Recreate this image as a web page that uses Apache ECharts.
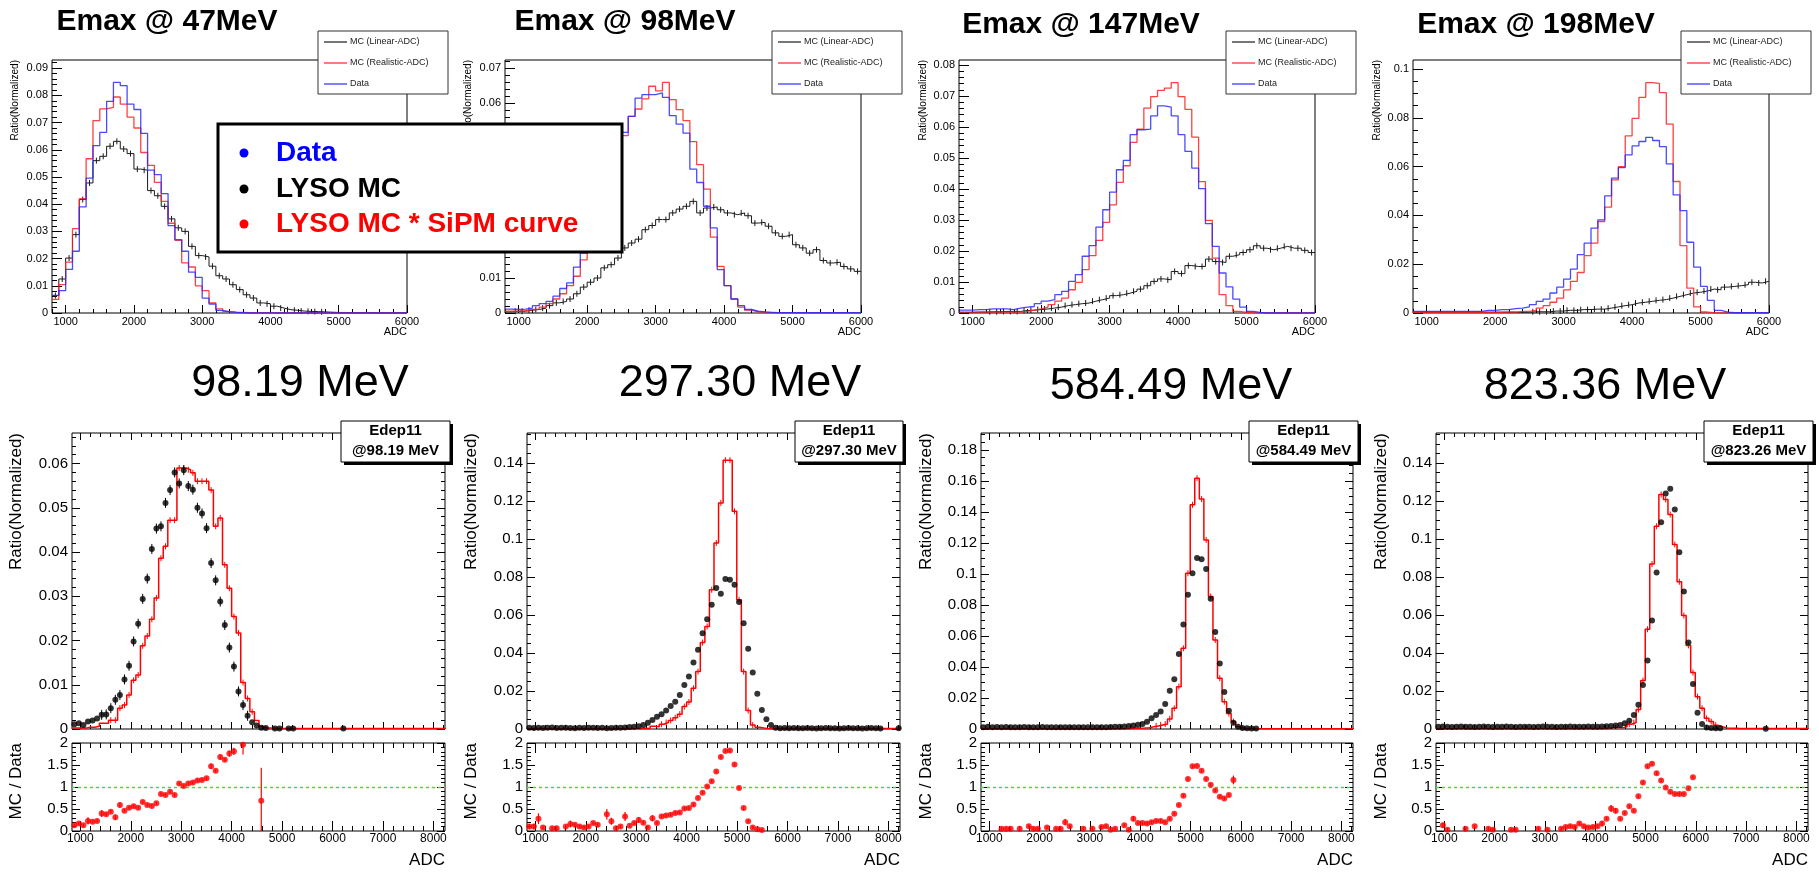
<!DOCTYPE html>
<html><head><meta charset="utf-8">
<script src="https://cdn.jsdelivr.net/npm/echarts@6/dist/echarts.min.js"></script>
<style>html,body{margin:0;padding:0;background:#fff}#c{width:1819px;height:874px}</style>
</head><body><div id="c"></div>
<script>
const FONT = '"Liberation Sans", Arial, Helvetica, sans-serif';

// ================= DATA =================
// ---- top row: histograms, bins of 100 ADC starting at 800 (800..5900)
const topBinStart = 800, topBinWidth = 100;
const topTitles = ['Emax @ 47MeV', 'Emax @ 98MeV', 'Emax @ 147MeV', 'Emax @ 198MeV'];
const topLegendLabels = ['MC (Linear-ADC)', 'MC (Realistic-ADC)', 'Data'];
const topXTicks = [1000, 2000, 3000, 4000, 5000, 6000];
const topYTicks47 = [0, 0.01, 0.02, 0.03, 0.04, 0.05, 0.06, 0.07, 0.08, 0.09];
const topYTicks98 = [0, 0.01, 0.02, 0.03, 0.04, 0.05, 0.06, 0.07];
const topYTicks147 = [0, 0.01, 0.02, 0.03, 0.04, 0.05, 0.06, 0.07, 0.08];
const topYTicks198 = [0, 0.02, 0.04, 0.06, 0.08, 0.1];

const e47Linear = [0.0064,0.0125,0.0202,0.0288,0.0417,0.0478,0.056,0.0576,0.0613,0.0631,0.0603,0.0586,0.0529,0.0525,0.045,0.0431,0.0392,0.0346,0.0313,0.03,0.0245,0.0211,0.0206,0.0172,0.0137,0.0125,0.0104,0.0086,0.0067,0.0055,0.0037,0.0034,0.0025,0.0018,0.0012,0.001,0.0007,0.0006,0.0005,0.0004,0.0003,0.0002,0.0002,0.0001,0.0001,0.0001,0.0001,0,0,0,0,0];
const e47Realistic = [0.005,0.0104,0.0187,0.031,0.042,0.0567,0.0707,0.075,0.0756,0.0794,0.0768,0.072,0.068,0.059,0.0543,0.048,0.041,0.033,0.0267,0.0184,0.0169,0.01,0.0082,0.0037,0.0015,0.0006,0.0003,0.0002,0.0001,0.0001,0.0001,0.0001,0,0,0,0,0,0,0,0,0,0,0,0,0,0,0,0,0,0,0,0];
const e47Data = [0.0065,0.0082,0.016,0.0227,0.039,0.0496,0.0615,0.0664,0.0778,0.0848,0.0836,0.0768,0.0748,0.066,0.0525,0.0509,0.0439,0.0321,0.027,0.0227,0.015,0.0131,0.0055,0.0033,0.001,0.0004,0.0002,0.0001,0,0,0,0,0,0,0,0,0,0,0,0,0,0,0,0,0,0,0,0,0,0,0,0];

const e98Linear = [0.0003,0.0005,0.0005,0.0008,0.001,0.0014,0.0021,0.0029,0.0033,0.004,0.0055,0.0074,0.0088,0.01,0.0129,0.0138,0.0157,0.0186,0.02,0.0211,0.0238,0.025,0.0267,0.0267,0.0286,0.0297,0.0305,0.0319,0.0286,0.03,0.0303,0.0295,0.0286,0.0281,0.0286,0.0278,0.0257,0.0259,0.0248,0.0229,0.0219,0.0224,0.0195,0.0186,0.0171,0.0181,0.015,0.0143,0.0145,0.0133,0.0126,0.0119];
const e98Realistic = [0.0005,0.0005,0.0007,0.001,0.0011,0.0017,0.0027,0.004,0.0055,0.0078,0.0105,0.0152,0.02,0.026,0.032,0.039,0.046,0.0507,0.0562,0.0583,0.0612,0.0648,0.0635,0.0659,0.061,0.0581,0.055,0.049,0.0424,0.0354,0.0217,0.0133,0.0078,0.004,0.0017,0.0008,0.0003,0.0002,0.0001,0.0001,0,0,0,0,0,0,0,0,0,0,0,0];
const e98Data = [0.0011,0.001,0.0011,0.0014,0.0021,0.0027,0.0033,0.0048,0.007,0.0086,0.0131,0.0171,0.022,0.027,0.033,0.04,0.047,0.0516,0.0562,0.0614,0.0624,0.0624,0.0629,0.0616,0.0564,0.054,0.0514,0.0411,0.0373,0.0305,0.0243,0.0124,0.0078,0.004,0.0021,0.001,0.0005,0.0003,0.0002,0.0001,0.0001,0.0001,0.0001,0.0001,0.0001,0.0001,0.0001,0.0001,0.0001,0.0001,0.0001,0.0001];

const e147Linear = [0.0002,0.0002,0.0003,0.0003,0.0004,0.0004,0.0005,0.0005,0.0005,0.0008,0.0009,0.0011,0.0013,0.0016,0.0019,0.0024,0.0027,0.003,0.0032,0.0038,0.0043,0.0048,0.0056,0.0059,0.0064,0.007,0.0077,0.0088,0.0102,0.011,0.0107,0.0134,0.0127,0.0153,0.015,0.015,0.0174,0.0166,0.0163,0.0183,0.0188,0.0195,0.0204,0.0217,0.0209,0.0204,0.0209,0.0215,0.0209,0.0209,0.0202,0.0195];
const e147Realistic = [0.0003,0.0003,0.0003,0.0003,0.0003,0.0003,0.0003,0.0003,0.0003,0.0005,0.0009,0.0013,0.0019,0.0027,0.0038,0.0048,0.0075,0.0099,0.014,0.0185,0.0234,0.0292,0.0349,0.0421,0.0475,0.055,0.0593,0.0661,0.0698,0.0718,0.0725,0.0743,0.0698,0.0657,0.0567,0.0424,0.0299,0.0177,0.0059,0.0024,0.0005,0.0002,0.0001,0,0,0,0,0,0,0,0,0];
const e147Data = [0.0009,0.0009,0.0011,0.0011,0.0013,0.0013,0.0013,0.0011,0.0016,0.0019,0.0021,0.003,0.0038,0.0043,0.0059,0.007,0.0102,0.0124,0.0183,0.0217,0.0277,0.0333,0.039,0.0462,0.0492,0.0575,0.0591,0.0593,0.0636,0.0668,0.0664,0.0636,0.0575,0.0521,0.0467,0.0401,0.0288,0.0215,0.0129,0.0084,0.0045,0.0019,0.0005,0.0002,0,0,0,0,0,0,0,0];

const e198Linear = [0.0003,0.0003,0.0003,0.0003,0.0003,0.0003,0.0003,0.0003,0.0003,0.0003,0.0003,0.0003,0.0003,0.0003,0.0003,0.0003,0.0003,0.0005,0.0005,0.0005,0.0008,0.0008,0.0011,0.0011,0.0014,0.0014,0.0016,0.0016,0.002,0.0025,0.003,0.0034,0.0041,0.0044,0.0048,0.0052,0.0055,0.0061,0.0068,0.0075,0.0082,0.0085,0.009,0.0098,0.0095,0.0106,0.0109,0.0112,0.0116,0.0126,0.0123,0.013];
const e198Realistic = [0.0003,0.0003,0.0003,0.0003,0.0003,0.0003,0.0003,0.0003,0.0003,0.0003,0.0003,0.0003,0.0003,0.0004,0.0004,0.0007,0.0007,0.0011,0.002,0.003,0.0044,0.0061,0.0095,0.013,0.0166,0.0235,0.0286,0.0375,0.0434,0.0546,0.06,0.0726,0.0798,0.0884,0.0944,0.0941,0.0903,0.0774,0.0539,0.0276,0.0102,0.0025,0.0004,0.0001,0,0,0,0,0,0,0,0];
const e198Data = [0.0007,0.0007,0.0007,0.0007,0.0007,0.0007,0.0007,0.0007,0.0007,0.0007,0.0011,0.0011,0.0014,0.0014,0.0018,0.002,0.0025,0.0034,0.0048,0.0057,0.0082,0.0106,0.0139,0.018,0.0239,0.0286,0.0348,0.0382,0.048,0.0553,0.0596,0.0648,0.0685,0.0703,0.072,0.0707,0.0682,0.0611,0.0484,0.042,0.029,0.0188,0.0109,0.0052,0.0011,0.0004,0.0001,0.0001,0.0001,0.0001,0.0001,0.0001];

// ---- bottom row: bins of ~90.4 ADC starting at 835.8 (index 0..81)
const botBinStart = 835.8, botBinWidth = 90.4;
const botTitles = ['98.19 MeV', '297.30 MeV', '584.49 MeV', '823.36 MeV'];
const botBoxLabels = ['@98.19 MeV', '@297.30 MeV', '@584.49 MeV', '@823.26 MeV'];
const botXTicks = [1000, 2000, 3000, 4000, 5000, 6000, 7000, 8000];
const botYTicks98 = [0, 0.01, 0.02, 0.03, 0.04, 0.05, 0.06];
const botYTicks297 = [0, 0.02, 0.04, 0.06, 0.08, 0.1, 0.12, 0.14];
const botYTicks584 = [0, 0.02, 0.04, 0.06, 0.08, 0.1, 0.12, 0.14, 0.16, 0.18];
const botYTicks823 = [0, 0.02, 0.04, 0.06, 0.08, 0.1, 0.12, 0.14];
const ratioYTicks = [0, 0.5, 1, 1.5, 2];

const b98Data = [0.0011,0.0013,0.0009,0.0017,0.0019,0.0024,0.0032,0.0033,0.0047,0.0066,0.0077,0.0112,0.0143,0.0198,0.0238,0.0294,0.034,0.0407,0.0453,0.0458,0.0511,0.054,0.058,0.0555,0.0585,0.0549,0.0541,0.05,0.0487,0.0454,0.0375,0.0336,0.0288,0.0235,0.0184,0.0141,0.0085,0.0054,0.003,0.0015,0.0008,0.0003,0.0002,null,0.0001,0.0001,null,0.0001,0.0001,null,null,null,null,null,null,null,null,null,null,0.0001,null,null,null,null,null,null,null,null,null,null,null,null,null,null,null,null,null,null,null,null,null,null];
const b98MC = [0.0002,0.0002,0.0002,0.0004,0.0004,0.0006,0.0013,0.0013,0.002,0.002,0.0047,0.0054,0.0077,0.011,0.0122,0.0188,0.021,0.0248,0.0296,0.0386,0.0413,0.0472,0.0472,0.059,0.059,0.0586,0.0579,0.056,0.056,0.056,0.054,0.0458,0.0477,0.0371,0.0318,0.0254,0.0217,0.0105,0.0069,0.0039,0.0019,0.0005,0.0002,0.0002,0.0001,0.0001,0.0001,0.0001,0.0001,0.0001,0.0001,0.0001,0.0001,0.0001,0.0001,0.0001,0.0001,0.0001,0.0001,0.0001,0.0001,0.0001,0.0001,0.0001,0.0001,0.0001,0.0001,0.0001,0.0001,0.0001,0.0001,0.0001,0.0001,0.0001,0.0001,0.0001,0.0001,0.0001,0.0001,0.0001,0.0001,0.0001];
const b98Ratio = [[0,0.13],[1,0.17],[2,0.13],[3,0.23],[4,0.21],[5,0.23],[6,0.4],[7,0.38],[8,0.44],[9,0.31],[10,0.59],[11,0.46],[12,0.53],[13,0.56],[14,0.53],[15,0.66],[16,0.59],[17,0.57],[18,0.63],[19,0.84],[20,0.82],[21,0.89],[22,0.82],[23,1.08],[24,1.02],[25,1.08],[26,1.1],[27,1.15],[28,1.16],[29,1.2],[30,1.47],[31,1.37],[32,1.68],[33,1.62],[34,1.76],[35,1.81],[37,1.96],[41,0.69]];
const b98RatioErr = [[3,0.08],[6,0.08],[9,0.06],[10,0.06],[30,0.06],[32,0.06],[34,0.07],[35,0.08],[37,0.22],[41,0.75]];

const b297Data = [0.0006,0.0005,0.0007,0.0005,0.0006,0.0008,0.0005,0.0006,0.0007,0.0005,0.0004,0.0006,0.0005,0.0007,0.0006,0.0005,0.0006,0.0004,0.0005,0.0006,0.0007,0.0008,0.001,0.0012,0.0015,0.0021,0.0033,0.0047,0.0065,0.0077,0.0097,0.0121,0.0144,0.0179,0.0232,0.0276,0.035,0.0417,0.0504,0.0578,0.0654,0.0742,0.0712,0.0789,0.0786,0.0759,0.0668,0.0557,0.0422,0.0297,0.0185,0.01,0.0051,0.0021,0.0007,0.0004,0.0005,0.0004,0.0005,0.0004,0.0004,0.0005,0.0004,0.0003,0.0004,0.0005,0.0004,0.0004,0.0003,0.0004,0.0005,0.0004,0.0004,0.0003,0.0004,0.0005,0.0004,0.0003,null,null,null,0.0004];
const b297MC = [0.0001,0.0001,0.0002,0.0001,0.0001,0.0001,0.0001,0.0001,0.0001,0.0001,0.0001,0.0001,0.0001,0.0001,0.0001,0.0001,0.0001,0.0002,0.0001,0.0001,0.0001,0.0003,0.0001,0.0002,0.0003,0.0004,0.0003,0.0014,0.0012,0.0025,0.0034,0.0045,0.0059,0.0078,0.0118,0.0142,0.0214,0.0302,0.0455,0.054,0.0733,0.0979,0.119,0.1415,0.1415,0.1146,0.068,0.0302,0.0097,0.0021,0.0009,0.0005,0.0002,0.0002,0.0002,0.0002,0.0002,0.0002,0.0002,0.0002,0.0002,0.0002,0.0002,0.0002,0.0002,0.0002,0.0002,0.0002,0.0002,0.0002,0.0002,0.0002,0.0002,0.0002,0.0002,0.0002,0.0002,0.0002,0.0002,0.0002,0.0002,0.0002];
const b297Ratio = [[0,0.1],[1,0.1],[2,0.28],[3,0.08],[5,0.06],[6,0.06],[8,0.1],[9,0.16],[10,0.14],[11,0.1],[12,0.08],[13,0.1],[14,0.18],[15,0.14],[17,0.38],[18,0.22],[19,0.06],[20,0.1],[21,0.33],[22,0.12],[23,0.18],[24,0.25],[25,0.19],[26,0.08],[27,0.29],[28,0.18],[29,0.33],[30,0.35],[31,0.37],[32,0.41],[33,0.42],[34,0.51],[35,0.52],[36,0.6],[37,0.75],[38,0.87],[39,1.01],[40,1.13],[41,1.35],[42,1.68],[43,1.82],[44,1.83],[45,1.51],[46,0.98],[47,0.52],[48,0.22],[49,0.08],[50,0.04],[51,0.02]];
const b297RatioErr = [[0,0.06],[1,0.06],[2,0.12],[9,0.08],[17,0.12],[18,0.08],[21,0.1],[24,0.07],[27,0.07]];

const b584Data = [0.0012,0.0014,0.0012,0.0013,0.0012,0.0013,0.0012,0.0011,0.0012,0.0013,0.0012,0.0012,0.0011,0.0013,0.0012,0.0012,0.0011,0.0012,0.0012,0.0011,0.0012,0.0012,0.0011,0.0012,0.0012,0.0011,0.0012,0.0012,0.0013,0.0014,0.0015,0.0016,0.0019,0.0022,0.0027,0.0033,0.0047,0.0069,0.009,0.0112,0.0161,0.0247,0.032,0.0484,0.0673,0.0865,0.1004,0.1103,0.1095,0.1032,0.0839,0.0626,0.0422,0.0239,0.0118,0.0041,0.0015,0.0006,0.0005,0.0004,0.0004,null,null,null,null,null,null,null,null,null,null,null,null,null,null,null,null,null,null,null,null,null];
const b584MC = [0.0001,0.0001,0.0001,0.0001,0.0001,0.0001,0.0001,0.0001,0.0001,0.0001,0.0001,0.0001,0.0001,0.0001,0.0001,0.0001,0.0001,0.0001,0.0001,0.0001,0.0001,0.0001,0.0001,0.0001,0.0001,0.0001,0.0001,0.0001,0.0001,0.0001,0.0002,0.0002,0.0002,0.0006,0.0005,0.0006,0.0008,0.0014,0.002,0.0026,0.0032,0.0065,0.0133,0.0273,0.052,0.1004,0.1445,0.1617,0.1482,0.1219,0.0854,0.0574,0.0327,0.0176,0.01,0.0047,0.0015,0.0005,0.0002,0.0002,0.0002,0.0002,0.0002,0.0002,0.0002,0.0002,0.0002,0.0002,0.0002,0.0002,0.0002,0.0002,0.0002,0.0002,0.0002,0.0002,0.0002,0.0002,0.0002,0.0002,0.0002,0.0002];
const b584Ratio = [[4,0.05],[5,0.05],[6,0.05],[8,0.05],[10,0.11],[11,0.05],[12,0.05],[14,0.08],[16,0.05],[17,0.05],[18,0.2],[19,0.11],[22,0.05],[24,0.05],[26,0.09],[27,0.11],[28,0.03],[29,0.05],[31,0.13],[32,0.03],[33,0.28],[34,0.18],[35,0.18],[36,0.17],[37,0.2],[38,0.23],[39,0.23],[40,0.2],[41,0.28],[42,0.39],[43,0.59],[44,0.8],[45,1.18],[46,1.47],[47,1.48],[48,1.37],[49,1.18],[50,1.05],[51,0.92],[52,0.78],[53,0.74],[54,0.82],[55,1.16]];
const b584RatioErr = [[18,0.07],[33,0.06],[55,0.1]];

const b823Data = [0.0012,0.0013,0.0012,0.0011,0.0012,0.0013,0.0012,0.0012,0.0011,0.0012,0.0013,0.0012,0.0011,0.0012,0.0012,0.0013,0.0012,0.0011,0.0012,0.0012,0.0012,0.0011,0.0012,0.0013,0.0012,0.0012,0.0011,0.0012,0.0012,0.0013,0.0012,0.0012,0.0012,0.0013,0.0012,0.0012,0.0013,0.0015,0.0016,0.0018,0.0021,0.003,0.0044,0.0074,0.0127,0.0232,0.036,0.0571,0.0824,0.1088,0.1239,0.1265,0.1155,0.093,0.0724,0.0455,0.0237,0.0086,0.0026,0.0008,0.0005,0.0004,0.0004,null,null,null,null,null,null,null,null,null,0.0001,null,null,null,null,null,null,null,null,null];
const b823MC = [0.0001,0.0001,0.0001,0.0001,0.0001,0.0001,0.0001,0.0001,0.0001,0.0001,0.0001,0.0001,0.0001,0.0001,0.0001,0.0001,0.0001,0.0001,0.0001,0.0001,0.0001,0.0001,0.0001,0.0001,0.0001,0.0001,0.0001,0.0001,0.0001,0.0001,0.0002,0.0002,0.0002,0.0002,0.0002,0.0002,0.0002,0.0002,0.0008,0.0008,0.0006,0.0012,0.0025,0.0034,0.0102,0.0255,0.0525,0.0868,0.1067,0.1234,0.1208,0.1129,0.0971,0.0775,0.0597,0.044,0.0297,0.017,0.0109,0.0056,0.0039,0.002,0.0012,0.0005,0.0004,0.0004,0.0003,0.0003,0.0003,0.0003,0.0003,0.0002,0.0002,0.0002,0.0002,0.0002,0.0002,0.0002,0.0002,0.0002,0.0002,0.0002];
const b823Ratio = [[1,0.13],[2,0.03],[6,0.05],[8,0.11],[11,0.05],[12,0.03],[16,0.03],[17,0.03],[22,0.05],[24,0.03],[27,0.05],[28,0.09],[29,0.11],[30,0.09],[31,0.17],[32,0.11],[33,0.08],[34,0.09],[35,0.11],[36,0.17],[37,0.28],[38,0.51],[39,0.46],[40,0.28],[41,0.41],[42,0.56],[43,0.46],[44,0.79],[45,1.1],[46,1.47],[47,1.53],[48,1.31],[49,1.15],[50,0.99],[51,0.89],[52,0.84],[53,0.84],[54,0.84],[55,0.97],[56,1.22]];
const b823RatioErr = [[1,0.06],[36,0.06],[38,0.08],[39,0.06]];

// ================= LAYOUT / BUILD =================
const grids = [], xAxes = [], yAxes = [], series = [], graphics = [];
const fmt = v => String(parseFloat((+v).toFixed(4)));
function steps(min, max, step) {
  const out = [];
  for (let k = Math.ceil(min / step - 1e-9); k * step <= max + 1e-9; k++) out.push(+(k * step).toFixed(6));
  return out;
}
function addGrid(b) {
  grids.push({left: b.l, top: b.t, width: b.w, height: b.h, show: true, borderColor: '#000', borderWidth: 1, backgroundColor: 'transparent', containLabel: false});
  return grids.length - 1;
}
function addAxis(dim, g, min, max, pos, ticks, len, labels, fs, margin) {
  const a = {
    type: 'value', gridIndex: g, min, max, position: pos,
    axisLine: {show: false, onZero: false}, splitLine: {show: false}, minorTick: {show: false},
    axisTick: {show: true, inside: true, length: len, customValues: ticks, lineStyle: {color: '#000', width: 1}},
    axisLabel: labels ? {show: true, customValues: labels, formatter: fmt, fontFamily: FONT, fontSize: fs, color: '#000', margin: margin, showMinLabel: true, showMaxLabel: true}
                      : {show: false},
    axisPointer: {show: false}
  };
  const arr = dim === 'x' ? xAxes : yAxes;
  arr.push(a);
  return arr.length - 1;
}
function stepPts(vals, start, width) {
  const pts = [];
  vals.forEach((v, i) => { if (v == null) return; pts.push([start + width * i, v], [start + width * (i + 1), v]); });
  return pts;
}
function centers(vals, start, width, minV) {
  const pts = [];
  vals.forEach((v, i) => { if (v == null || v < minV) return; pts.push([start + width * (i + 0.5), v]); });
  return pts;
}
function pxErr(xi, yi, pts, color, half) {
  return {type: 'custom', xAxisIndex: xi, yAxisIndex: yi, data: pts, silent: true, animation: false, z: 3,
    renderItem: (p, api) => {
      const c = api.coord([api.value(0), api.value(1)]);
      return {type: 'line', shape: {x1: c[0], y1: c[1] - half, x2: c[0], y2: c[1] + half}, style: {stroke: color, lineWidth: 1}};
    }};
}
function text(x, y, str, o) {
  graphics.push(Object.assign({type: 'text', x, y, z: 100, silent: true,
    style: Object.assign({text: str, fill: '#000', fontFamily: FONT, fontSize: 12, align: 'center', verticalAlign: 'middle'}, o.style || {})},
    o.rotation ? {rotation: o.rotation} : {}));
}
function rect(x, y, w, h, o) {
  graphics.push({type: 'rect', z: o.z || 100, silent: true, shape: {x, y, width: w, height: h},
    style: {fill: o.fill || '#fff', stroke: o.stroke || null, lineWidth: o.lw || 0}});
}
function line(x1, y1, x2, y2, color, w) {
  graphics.push({type: 'line', z: 101, silent: true, shape: {x1, y1, x2, y2}, style: {stroke: color, lineWidth: w}});
}

const RED = '#ff2020', BLUE = '#2a2aff', BLK = '#1a1a1a';

// ---------- top row ----------
const topPanels = [
  {b: {l: 52, t: 60, w: 355, h: 253}, ymax: 0.093, yt: topYTicks47, ym: 0.002, lin: e47Linear, real: e47Realistic, data: e47Data, tp: [167, 22], leg: 318, ytx: 15},
  {b: {l: 505, t: 60, w: 356, h: 253}, ymax: 0.0723, yt: topYTicks98, ym: 0.002, lin: e98Linear, real: e98Realistic, data: e98Data, tp: [625, 22], leg: 772, ytx: 468},
  {b: {l: 959, t: 60, w: 356, h: 253}, ymax: 0.0816, yt: topYTicks147, ym: 0.002, lin: e147Linear, real: e147Realistic, data: e147Data, tp: [1081, 25], leg: 1226, ytx: 923},
  {b: {l: 1413, t: 60, w: 356, h: 253}, ymax: 0.1037, yt: topYTicks198, ym: 0.005, lin: e198Linear, real: e198Realistic, data: e198Data, tp: [1536, 25], leg: 1681, ytx: 1377}
];
const TX0 = 800, TX1 = 6000;
topPanels.forEach((P, k) => {
  const g = addGrid(P.b);
  const xi = addAxis('x', g, TX0, TX1, 'bottom', topXTicks, 8, topXTicks, 11, 3);
  addAxis('x', g, TX0, TX1, 'bottom', steps(TX0, TX1, 200), 4, null);
  const yi = addAxis('y', g, 0, P.ymax, 'left', P.yt, 10, P.yt, 11, 4);
  addAxis('y', g, 0, P.ymax, 'left', steps(0, P.ymax, P.ym), 5, null);
  series.push({type: 'line', xAxisIndex: xi, yAxisIndex: yi, data: stepPts(P.lin, topBinStart, topBinWidth), symbol: 'none', lineStyle: {color: BLK, width: 1}, animation: false, z: 2});
  series.push(pxErr(xi, yi, centers(P.lin, topBinStart, topBinWidth, 0.0004), BLK, 3));
  series.push({type: 'line', xAxisIndex: xi, yAxisIndex: yi, data: stepPts(P.real, topBinStart, topBinWidth), symbol: 'none', lineStyle: {color: RED, width: 1.3, opacity: 0.85}, animation: false, z: 3});
  series.push({type: 'line', xAxisIndex: xi, yAxisIndex: yi, data: stepPts(P.data, topBinStart, topBinWidth), symbol: 'none', lineStyle: {color: BLUE, width: 1.3, opacity: 0.85}, animation: false, z: 4});
  text(P.tp[0], P.tp[1], topTitles[k], {style: {fontSize: 30, fontWeight: 'bold'}});
  text(P.b.l + P.b.w, 332, 'ADC', {style: {fontSize: 11, align: 'right'}});
  text(P.ytx, P.b.t, 'Ratio(Normalized)', {rotation: Math.PI / 2, style: {fontSize: 10, align: 'right'}});
  const L = P.leg;
  rect(L, 31, 130, 63, {fill: '#fff', stroke: '#333', lw: 1});
  const cols = [BLK, RED, BLUE], ys = [42, 63, 84];
  topLegendLabels.forEach((s, j) => {
    line(L + 6, ys[j], L + 29, ys[j], cols[j], 1.2);
    text(L + 32, ys[j], s, {style: {fontSize: 9, align: 'left', fill: '#222'}});
  });
});
// big overlay legend
rect(218, 124, 404, 128, {fill: '#fff', stroke: '#000', lw: 3});
[['Data', '#0000ff', 153], ['LYSO MC', '#000', 189], ['LYSO MC * SiPM curve', '#ff0000', 224]].forEach(r => {
  graphics.push({type: 'circle', z: 101, silent: true, shape: {cx: 244, cy: r[2], r: 4.5}, style: {fill: r[1]}});
  text(276, r[2], r[0], {style: {fontSize: 28, fontWeight: 'bold', align: 'left', fill: r[1]}});
});

// ---------- bottom row ----------
const botPanels = [
  {l: 72, w: 373, ymax: 0.0669, yt: botYTicks98, ym: 0.002, data: b98Data, mc: b98MC, ratio: b98Ratio, rerr: b98RatioErr, tp: [300, 384], box: [341, 109], ytx: 16, dataErr: true},
  {l: 527, w: 373, ymax: 0.1558, yt: botYTicks297, ym: 0.005, data: b297Data, mc: b297MC, ratio: b297Ratio, rerr: b297RatioErr, tp: [740, 384], box: [795, 108], ytx: 471},
  {l: 981, w: 372, ymax: 0.1908, yt: botYTicks584, ym: 0.005, data: b584Data, mc: b584MC, ratio: b584Ratio, rerr: b584RatioErr, tp: [1171, 387], box: [1249, 109], ytx: 926},
  {l: 1436, w: 372, ymax: 0.1558, yt: botYTicks823, ym: 0.005, data: b823Data, mc: b823MC, ratio: b823Ratio, rerr: b823RatioErr, tp: [1605, 387], box: [1704, 109], ytx: 1381}
];
const BX0 = 835, BX1 = 8230;
const bxMinor = steps(BX0, BX1, 200);
botPanels.forEach((P, k) => {
  const g = addGrid({l: P.l, t: 433, w: P.w, h: 296});
  const xi = addAxis('x', g, BX0, BX1, 'bottom', botXTicks, 7, null);
  addAxis('x', g, BX0, BX1, 'bottom', bxMinor, 4, null);
  addAxis('x', g, BX0, BX1, 'top', botXTicks, 7, null);
  addAxis('x', g, BX0, BX1, 'top', bxMinor, 4, null);
  const yi = addAxis('y', g, 0, P.ymax, 'left', P.yt, 8, P.yt, 15, 4);
  addAxis('y', g, 0, P.ymax, 'left', steps(0, P.ymax, P.ym), 4, null);
  addAxis('y', g, 0, P.ymax, 'right', P.yt, 8, null);
  addAxis('y', g, 0, P.ymax, 'right', steps(0, P.ymax, P.ym), 4, null);
  series.push({type: 'line', xAxisIndex: xi, yAxisIndex: yi, data: stepPts(P.mc, botBinStart, botBinWidth), symbol: 'none', lineStyle: {color: '#ff0000', width: 1.5}, animation: false, z: 2});
  series.push(pxErr(xi, yi, centers(P.mc, botBinStart, botBinWidth, 0.002), '#ff0000', 3));
  if (P.dataErr) series.push(pxErr(xi, yi, centers(P.data, botBinStart, botBinWidth, 0.003), '#000', 5));
  series.push({type: 'scatter', xAxisIndex: xi, yAxisIndex: yi, data: centers(P.data, botBinStart, botBinWidth, -1), symbol: 'circle', symbolSize: 6, itemStyle: {color: '#000'}, animation: false, z: 5});
  const gr = addGrid({l: P.l, t: 743, w: P.w, h: 88});
  const rxi = addAxis('x', gr, BX0, BX1, 'bottom', botXTicks, 10, botXTicks, 12, 2);
  addAxis('x', gr, BX0, BX1, 'bottom', bxMinor, 5, null);
  addAxis('x', gr, BX0, BX1, 'top', botXTicks, 10, null);
  addAxis('x', gr, BX0, BX1, 'top', bxMinor, 5, null);
  const ryi = addAxis('y', gr, 0, 2, 'left', ratioYTicks, 8, ratioYTicks, 15, 4);
  addAxis('y', gr, 0, 2, 'left', steps(0, 2, 0.1), 4, null);
  addAxis('y', gr, 0, 2, 'right', ratioYTicks, 8, null);
  addAxis('y', gr, 0, 2, 'right', steps(0, 2, 0.1), 4, null);
  const errMap = {}; P.rerr.forEach(e => errMap[e[0]] = e[1]);
  const rpts = P.ratio.map(r => [botBinStart + botBinWidth * (r[0] + 0.5), r[1], errMap[r[0]] != null ? errMap[r[0]] : 0.035]);
  series.push({type: 'custom', xAxisIndex: rxi, yAxisIndex: ryi, data: rpts, silent: true, animation: false, z: 3, clip: true,
    renderItem: (p, api) => {
      const x = api.value(0), y = api.value(1), e = api.value(2);
      const a = api.coord([x, Math.max(0, y - e)]), b = api.coord([x, Math.min(2, y + e)]);
      return {type: 'line', shape: {x1: a[0], y1: a[1], x2: b[0], y2: b[1]}, style: {stroke: '#ff0000', lineWidth: 1.2}};
    }});
  series.push({type: 'scatter', xAxisIndex: rxi, yAxisIndex: ryi, data: rpts.map(r => [r[0], r[1]]), symbol: 'circle', symbolSize: 6, itemStyle: {color: '#ff0000'}, animation: false, z: 5,
    markLine: {silent: true, symbol: 'none', animation: false, label: {show: false}, data: [{yAxis: 1}], lineStyle: {color: '#44dd44', type: [3, 3], width: 1.4}}});
  text(P.tp[0], P.tp[1], botTitles[k], {style: {fontSize: 45}});
  text(P.l + P.w, 860, 'ADC', {style: {fontSize: 17, align: 'right'}});
  text(P.ytx, 433, 'Ratio(Normalized)', {rotation: Math.PI / 2, style: {fontSize: 17, align: 'right'}});
  text(P.ytx, 743, 'MC / Data', {rotation: Math.PI / 2, style: {fontSize: 17, align: 'right'}});
  const bx = P.box[0], bw = P.box[1];
  rect(bx + 3, 424, bw, 41, {fill: '#000', z: 99});
  rect(bx, 421, bw, 41, {fill: '#fff', stroke: '#000', lw: 1});
  text(bx + bw / 2, 431, 'Edep11', {style: {fontSize: 15, fontWeight: 'bold'}});
  text(bx + bw / 2, 451, botBoxLabels[k], {style: {fontSize: 15, fontWeight: 'bold'}});
});

const chart = echarts.init(document.getElementById('c'), null, {renderer: 'canvas', width: 1819, height: 874});
chart.setOption({
  backgroundColor: '#fff', animation: false,
  grid: grids, xAxis: xAxes, yAxis: yAxes, series: series, graphic: {elements: graphics}
});
</script>
</body></html>
